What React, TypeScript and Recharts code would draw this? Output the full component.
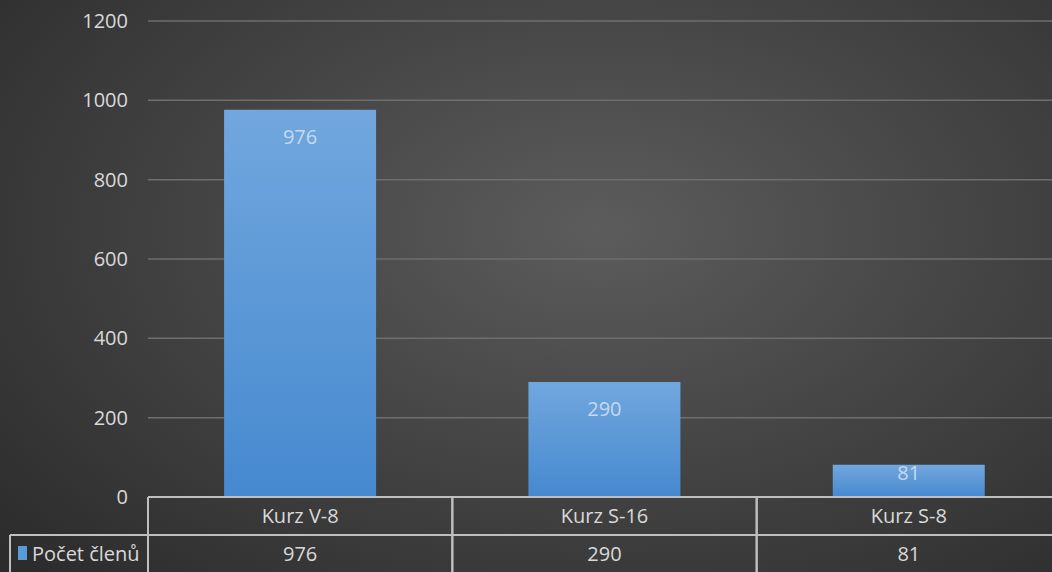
import React from "react";
import { ComposedChart, Bar, XAxis, YAxis, CartesianGrid, LabelList } from "recharts";

const categories = ["Kurz V-8", "Kurz S-16", "Kurz S-8"];
const memberCounts = [976, 290, 81];
const seriesName = "Počet členů";
const yTicks = [0, 200, 400, 600, 800, 1000, 1200];

const data = categories.map((c, i) => ({ name: c, value: memberCounts[i] }));

const FONT = "'Open Sans', 'Noto Sans', sans-serif";
const TEXT = "#d9d9d9";
const LINE = "#bfbfbf";
const CHART_W = 1062;
const CHART_H = 572;
const FS = 20;

const TableTick = (props: any) => {
  const { x, y, payload, index } = props;
  const half = payload && payload.offset ? payload.offset : 152;
  const left = x - half;
  const right = x + half;
  const rowH = 38;
  const val = memberCounts[index];
  return (
    <g>
      <line x1={left} y1={y} x2={left} y2={CHART_H + 5} stroke={LINE} strokeWidth={2} />
      <line x1={right} y1={y} x2={right} y2={CHART_H + 5} stroke={LINE} strokeWidth={2} />
      <line x1={left} y1={y + rowH} x2={right} y2={y + rowH} stroke={LINE} strokeWidth={2} />
      <text x={x} y={y + rowH / 2 + 7} textAnchor="middle" fill={TEXT} fontSize={FS} fontFamily={FONT}>
        {payload.value}
      </text>
      <text x={x} y={y + rowH + rowH / 2 + 7} textAnchor="middle" fill={TEXT} fontSize={FS} fontFamily={FONT}>
        {val}
      </text>
      {index === 0 && (
        <g>
          <line x1={10} y1={y + rowH} x2={left} y2={y + rowH} stroke={LINE} strokeWidth={2} />
          <line x1={10} y1={y + rowH} x2={10} y2={CHART_H + 5} stroke={LINE} strokeWidth={2} />
          <rect x={18} y={y + rowH + 11} width={9} height={14} fill="#5b9bd5" />
          <text x={32} y={y + rowH + rowH / 2 + 7} textAnchor="start" fill={TEXT} fontSize={FS} fontFamily={FONT}>
            {seriesName}
          </text>
        </g>
      )}
    </g>
  );
};

const BarValueLabel = (props: any) => {
  const { x, y, width, height, value } = props;
  const dy = height > 60 ? 27 : height * 0.25;
  return (
    <text
      x={x + width / 2}
      y={y + dy}
      textAnchor="middle"
      dominantBaseline="central"
      fill="#c6d9ee"
      fontSize={FS}
      fontFamily={FONT}
    >
      {value}
    </text>
  );
};

export default function App() {
  return (
    <div
      style={{
        position: "absolute",
        left: 0,
        top: 0,
        width: 1052,
        height: 572,
        overflow: "hidden",
        background: "radial-gradient(ellipse 75% 85% at 57% 40%, #5c5c5c 0%, #464646 45%, #2c2c2c 100%)",
      }}
    >
      <ComposedChart
        width={CHART_W}
        height={CHART_H}
        data={data}
        margin={{ top: 21, right: 1, bottom: 0, left: 0 }}
        barCategoryGap="25%"
      >
        <defs>
          <linearGradient id="barGrad" x1="0" y1="0" x2="0" y2="1">
            <stop offset="0%" stopColor="#71a7de" />
            <stop offset="100%" stopColor="#4689cf" />
          </linearGradient>
        </defs>
        <CartesianGrid vertical={false} stroke="#6e6e6e" strokeWidth={1.5} />
        <YAxis
          width={148}
          domain={[0, 1200]}
          ticks={yTicks}
          axisLine={false}
          tickLine={false}
          tickMargin={14}
          tick={{ fill: TEXT, fontSize: FS, fontFamily: FONT }}
        />
        <XAxis
          dataKey="name"
          axisLine={{ stroke: LINE, strokeWidth: 2 }}
          tickLine={false}
          tickSize={0}
          tickMargin={0}
          interval={0}
          tick={<TableTick />}
          height={75}
        />
        <Bar dataKey="value" fill="url(#barGrad)" isAnimationActive={false}>
          <LabelList dataKey="value" content={<BarValueLabel />} />
        </Bar>
      </ComposedChart>
    </div>
  );
}
